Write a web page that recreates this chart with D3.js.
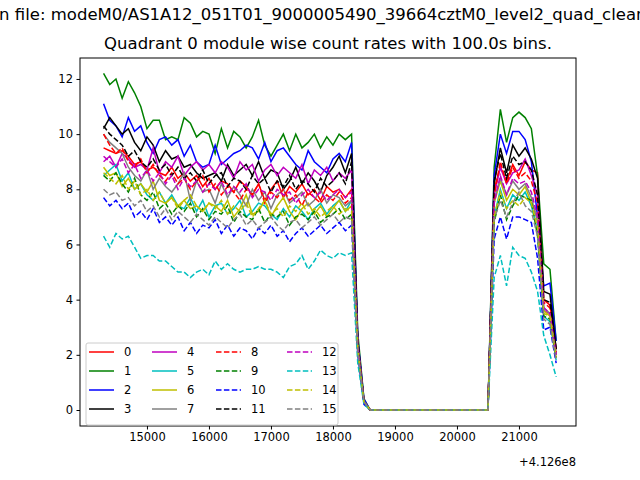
<!DOCTYPE html>
<html>
<head>
<meta charset="utf-8">
<script src="https://cdn.jsdelivr.net/npm/d3@7"></script>
<style>
  body { margin: 0; background: #fff; }
  text { font-family: "DejaVu Sans", sans-serif; }
</style>
</head>
<body>
<div id="chart"></div>
<script>
// Time bins (offset from 4.126e8), 100 s each
const tStart = 14300;
const binSize = 100;

const colors = ["red", "green", "blue", "black", "#bf00bf", "#00bfbf", "#bfbf00", "gray",
                "red", "green", "blue", "black", "#bf00bf", "#00bfbf", "#bfbf00", "gray"];
const labels = d3.range(16).map(String);

const series = [
  [9.5,9.4,9.3,9.4,9.2,8.9,9.0,8.7,8.8,8.6,8.5,8.8,8.4,8.6,8.3,8.5,8.1,8.4,8.0,8.3,8.2,7.9,8.3,8.1,7.8,8.2,7.6,8.0,8.3,7.7,8.1,7.9,8.2,7.8,8.0,7.6,8.1,7.9,8.0,7.7,8.0, 2.4,0.3, 0,0,0,0,0,0,0,0,0,0,0,0,0,0,0,0,0,0,0,0, 8.0,8.8,8.3,8.9,8.5,9.0,8.7,8.6,4.0,3.8,2.2],
  [12.2,11.8,12.0,11.3,11.9,11.5,11.0,10.2,10.5,10.5,9.8,9.9,9.8,10.6,10.4,9.9,10.1,10.0,9.3,10.2,9.5,10.1,9.9,9.5,9.9,10.5,9.6,9.2,9.6,10.0,9.4,10.0,9.5,9.7,10.0,9.5,9.9,9.6,10.0,9.8,10.0, 2.8,0.4, 0,0,0,0,0,0,0,0,0,0,0,0,0,0,0,0,0,0,0,0, 8.8,10.9,9.7,10.6,10.8,10.6,10.2,8.5,5.3,5.1,2.5],
  [11.1,10.5,10.3,9.9,10.6,10.1,10.3,9.7,9.3,9.8,9.9,9.6,9.8,9.2,9.6,9.0,8.8,8.9,9.6,8.9,9.1,9.3,9.4,9.6,9.5,9.1,9.7,9.0,9.4,9.5,9.2,8.9,8.7,9.4,9.0,8.8,8.6,9.1,9.3,9.0,9.7, 2.6,0.4, 0,0,0,0,0,0,0,0,0,0,0,0,0,0,0,0,0,0,0,0, 8.5,10.0,9.3,10.1,10.1,9.8,9.0,7.0,4.5,4.6,2.5],
  [10.2,10.6,10.3,10.0,10.2,9.7,9.4,9.9,9.6,9.0,9.4,9.1,9.2,8.8,8.9,8.6,8.4,8.5,8.6,8.3,8.9,8.5,8.7,8.9,8.5,9.0,8.4,8.7,8.6,8.0,8.3,8.8,8.2,8.6,8.3,7.9,8.5,8.8,9.2,8.6,9.3, 2.5,0.3, 0,0,0,0,0,0,0,0,0,0,0,0,0,0,0,0,0,0,0,0, 8.2,9.5,8.6,9.6,9.2,9.5,9.1,8.4,4.3,4.2,2.2],
  [9.0,9.2,8.8,9.3,9.1,8.8,8.9,8.7,9.5,8.6,9.0,8.8,9.2,8.5,8.8,9.0,8.7,8.9,8.6,9.0,8.8,8.4,9.0,8.7,8.9,8.3,8.7,8.9,8.5,8.8,8.6,8.4,8.9,8.2,8.7,8.5,8.8,8.3,8.6,8.4,8.7, 2.5,0.3, 0,0,0,0,0,0,0,0,0,0,0,0,0,0,0,0,0,0,0,0, 7.8,8.8,8.2,8.6,8.7,9.1,8.5,7.8,3.6,3.5,2.0],
  [8.5,8.7,8.9,8.3,8.6,8.0,8.2,7.8,7.6,7.9,7.5,7.8,7.4,7.3,7.7,7.2,7.6,7.0,7.4,7.5,7.1,7.3,7.6,7.0,7.2,7.5,7.4,7.1,6.9,7.3,7.0,7.4,7.2,6.9,7.3,7.5,7.1,7.4,7.6,7.2,7.6, 2.3,0.3, 0,0,0,0,0,0,0,0,0,0,0,0,0,0,0,0,0,0,0,0, 7.0,8.0,7.3,7.8,7.6,7.9,7.4,6.5,3.4,3.2,1.8],
  [8.8,8.5,8.6,8.1,8.4,8.0,8.2,7.9,8.3,7.6,7.5,7.7,7.4,7.6,7.3,7.4,7.2,7.5,7.4,7.2,7.6,7.0,7.3,7.8,7.1,7.2,7.6,7.0,7.4,7.7,7.2,6.9,7.3,7.5,7.1,7.4,7.0,7.3,7.6,7.2,7.4, 2.3,0.3, 0,0,0,0,0,0,0,0,0,0,0,0,0,0,0,0,0,0,0,0, 7.5,8.3,7.6,8.0,7.8,8.1,7.5,7.0,3.6,3.4,2.0],
  [10.0,9.7,9.5,9.3,8.8,8.5,8.3,8.7,8.0,8.4,8.1,7.9,8.2,8.6,7.6,8.3,7.9,8.0,7.5,8.2,7.7,8.1,7.8,7.4,8.0,7.6,7.9,7.3,7.8,8.0,7.5,7.7,7.9,7.4,7.6,8.0,7.5,7.8,7.7,7.4,7.6, 2.3,0.3, 0,0,0,0,0,0,0,0,0,0,0,0,0,0,0,0,0,0,0,0, 7.6,8.4,7.8,8.3,8.0,8.2,7.7,6.8,3.7,3.5,2.0],
  [10.0,9.6,9.3,9.5,9.0,8.8,9.1,8.6,8.9,8.5,8.3,8.6,8.2,8.4,8.0,8.3,8.5,7.9,8.2,7.8,8.1,7.9,7.6,8.0,7.8,8.2,7.5,7.9,7.7,8.0,7.6,7.8,7.4,7.9,7.7,7.5,7.8,7.6,7.9,7.5,7.7, 2.3,0.3, 0,0,0,0,0,0,0,0,0,0,0,0,0,0,0,0,0,0,0,0, 7.8,9.0,8.2,8.8,8.4,8.6,8.3,7.5,3.9,3.7,2.1],
  [8.5,8.3,8.6,8.2,7.9,8.4,7.8,7.6,7.9,7.3,7.5,7.1,7.4,7.2,7.5,7.0,7.3,6.9,7.2,7.1,7.4,6.8,7.2,7.0,6.9,7.3,6.8,7.1,7.0,7.2,6.7,7.0,7.1,6.9,7.2,6.8,7.0,7.1,7.3,6.9,7.1, 2.2,0.3, 0,0,0,0,0,0,0,0,0,0,0,0,0,0,0,0,0,0,0,0, 6.8,7.8,6.9,7.4,7.8,7.7,7.6,6.3,3.4,3.3,1.9],
  [7.7,7.4,7.6,7.3,7.5,7.0,7.2,6.9,7.3,6.8,7.0,6.7,7.0,6.5,6.8,6.4,6.7,6.6,6.9,6.4,6.7,6.3,6.6,6.5,6.2,6.6,6.4,6.7,6.3,6.5,6.1,6.4,6.6,6.3,6.5,6.7,6.4,6.6,6.8,6.5,6.7, 2.0,0.2, 0,0,0,0,0,0,0,0,0,0,0,0,0,0,0,0,0,0,0,0, 6.2,7.0,6.2,7.0,7.0,6.9,6.8,5.5,2.9,3.0,1.7],
  [10.3,10.0,9.8,9.6,9.2,9.4,9.0,8.8,9.1,8.7,8.9,8.5,8.8,8.4,8.6,8.3,8.7,8.2,8.5,8.6,8.1,8.4,8.3,8.0,8.5,8.2,8.4,7.9,8.3,8.1,8.5,8.0,8.3,8.2,7.9,8.4,8.1,8.3,8.6,8.2,9.0, 2.5,0.3, 0,0,0,0,0,0,0,0,0,0,0,0,0,0,0,0,0,0,0,0, 8.3,9.3,8.4,9.2,8.9,9.0,8.7,7.8,4.0,3.9,2.2],
  [9.2,9.0,8.8,9.1,8.6,8.9,8.4,8.7,8.3,8.6,8.2,8.5,8.0,8.4,8.1,8.3,7.9,8.2,8.0,8.3,7.8,8.1,7.9,8.2,7.7,8.0,7.9,7.6,8.0,7.8,7.9,7.5,7.8,8.0,7.7,7.9,7.6,7.8,8.0,7.7,7.9, 2.3,0.3, 0,0,0,0,0,0,0,0,0,0,0,0,0,0,0,0,0,0,0,0, 7.5,8.5,7.8,8.4,8.2,8.3,7.9,7.0,3.7,3.5,2.0],
  [6.3,5.9,6.4,6.2,6.3,5.9,5.5,5.6,5.6,5.4,5.4,5.2,5.0,5.0,4.8,5.0,5.1,4.9,5.4,5.1,5.3,5.1,5.0,5.1,5.1,5.2,5.1,5.1,5.0,4.8,5.2,5.3,5.6,5.1,5.4,5.8,5.6,5.5,5.7,5.6,5.7, 1.7,0.2, 0,0,0,0,0,0,0,0,0,0,0,0,0,0,0,0,0,0,0,0, 4.8,5.6,4.5,5.9,5.6,5.5,5.0,4.3,2.7,2.0,1.2],
  [8.6,8.4,8.2,8.5,8.0,8.3,7.8,8.0,7.6,7.9,7.5,7.7,7.3,7.6,7.8,7.4,7.2,7.5,7.3,7.6,7.1,7.4,7.2,7.5,7.0,7.3,7.6,7.1,7.3,7.0,7.4,7.2,7.5,7.1,7.3,7.0,7.2,7.4,7.1,7.3,7.2, 2.2,0.3, 0,0,0,0,0,0,0,0,0,0,0,0,0,0,0,0,0,0,0,0, 7.0,7.9,7.3,7.6,7.4,7.7,7.5,6.6,3.5,3.4,1.9],
  [8.0,7.8,7.9,7.6,7.7,7.4,7.6,7.2,7.4,7.0,7.3,6.9,7.2,7.0,6.8,7.1,6.9,6.7,7.0,6.8,6.6,6.9,7.1,6.7,6.9,6.6,6.8,7.0,6.7,6.5,6.8,6.9,6.6,6.8,7.0,6.7,6.9,7.1,6.8,7.0,6.9, 2.1,0.3, 0,0,0,0,0,0,0,0,0,0,0,0,0,0,0,0,0,0,0,0, 6.9,7.6,7.0,7.5,7.9,7.4,7.2,6.3,3.3,3.1,1.8]
];

const xTicks = [15000, 16000, 17000, 18000, 19000, 20000, 21000];
const yTicks = [0, 2, 4, 6, 8, 10, 12];

const width = 640, height = 480;
const margin = { left: 80, right: 64, top: 58, bottom: 54 };

const svg = d3.select("#chart").append("svg")
  .attr("width", width).attr("height", height);

const x = d3.scaleLinear().domain([13920, 21920])
  .range([margin.left, width - margin.right]);
const y = d3.scaleLinear().domain([-0.58, 12.76])
  .range([height - margin.bottom, margin.top]);

// titles (the figure title is wider than the canvas, as in the original)
svg.append("text").attr("x", 314).attr("y", 20).attr("text-anchor", "middle")
  .attr("font-size", 16.5)
  .text("Data in file: modeM0/AS1A12_051T01_9000005490_39664cztM0_level2_quad_clean.evt");
svg.append("text").attr("x", 328).attr("y", 49).attr("text-anchor", "middle")
  .attr("font-size", 16.5)
  .text("Quadrant 0 module wise count rates with 100.0s bins.");

// lines
const line = d3.line()
  .x((d, i) => x(tStart + i * binSize))
  .y(d => y(d));

const g = svg.append("g");
series.forEach((s, k) => {
  g.append("path")
    .datum(s)
    .attr("fill", "none")
    .attr("stroke", colors[k])
    .attr("stroke-width", 1.5)
    .attr("stroke-dasharray", k >= 8 ? "5.5,2.4" : null)
    .attr("d", line);
});

// axes
const xAxis = svg.append("g")
  .attr("transform", `translate(0,${height - margin.bottom})`)
  .call(d3.axisBottom(x).tickValues(xTicks).tickSize(3.5).tickPadding(3.5).tickFormat(d3.format("d")));
const yAxis = svg.append("g")
  .attr("transform", `translate(${margin.left},0)`)
  .call(d3.axisLeft(y).tickValues(yTicks).tickSize(3.5).tickPadding(3.5).tickFormat(d3.format("d")));
[xAxis, yAxis].forEach(a => {
  a.selectAll("text").attr("font-size", 11.5).attr("fill", "#000");
  a.select(".domain").remove();
});

svg.append("rect")
  .attr("x", margin.left).attr("y", margin.top)
  .attr("width", width - margin.left - margin.right)
  .attr("height", height - margin.top - margin.bottom)
  .attr("fill", "none").attr("stroke", "#000").attr("stroke-width", 1);

svg.append("text").attr("x", width - margin.right).attr("y", 466)
  .attr("text-anchor", "end").attr("font-size", 11.5).text("+4.126e8");

// legend
const leg = svg.append("g").attr("transform", "translate(86,343)");
leg.append("rect").attr("width", 252).attr("height", 82).attr("rx", 2)
  .attr("fill", "#fff").attr("fill-opacity", 0.8)
  .attr("stroke", "#ccc");
const colX = [3, 66, 130, 201];
labels.forEach((lab, k) => {
  const col = Math.floor(k / 4), row = k % 4;
  const item = leg.append("g")
    .attr("transform", `translate(${colX[col]},${9 + row * 19})`);
  item.append("line").attr("x1", 0).attr("x2", 25)
    .attr("stroke", colors[k]).attr("stroke-width", 1.5)
    .attr("stroke-dasharray", k >= 8 ? "5.5,2.4" : null);
  item.append("text").attr("x", 35).attr("y", 4).attr("font-size", 11.5).text(lab);
});
</script>
</body>
</html>
